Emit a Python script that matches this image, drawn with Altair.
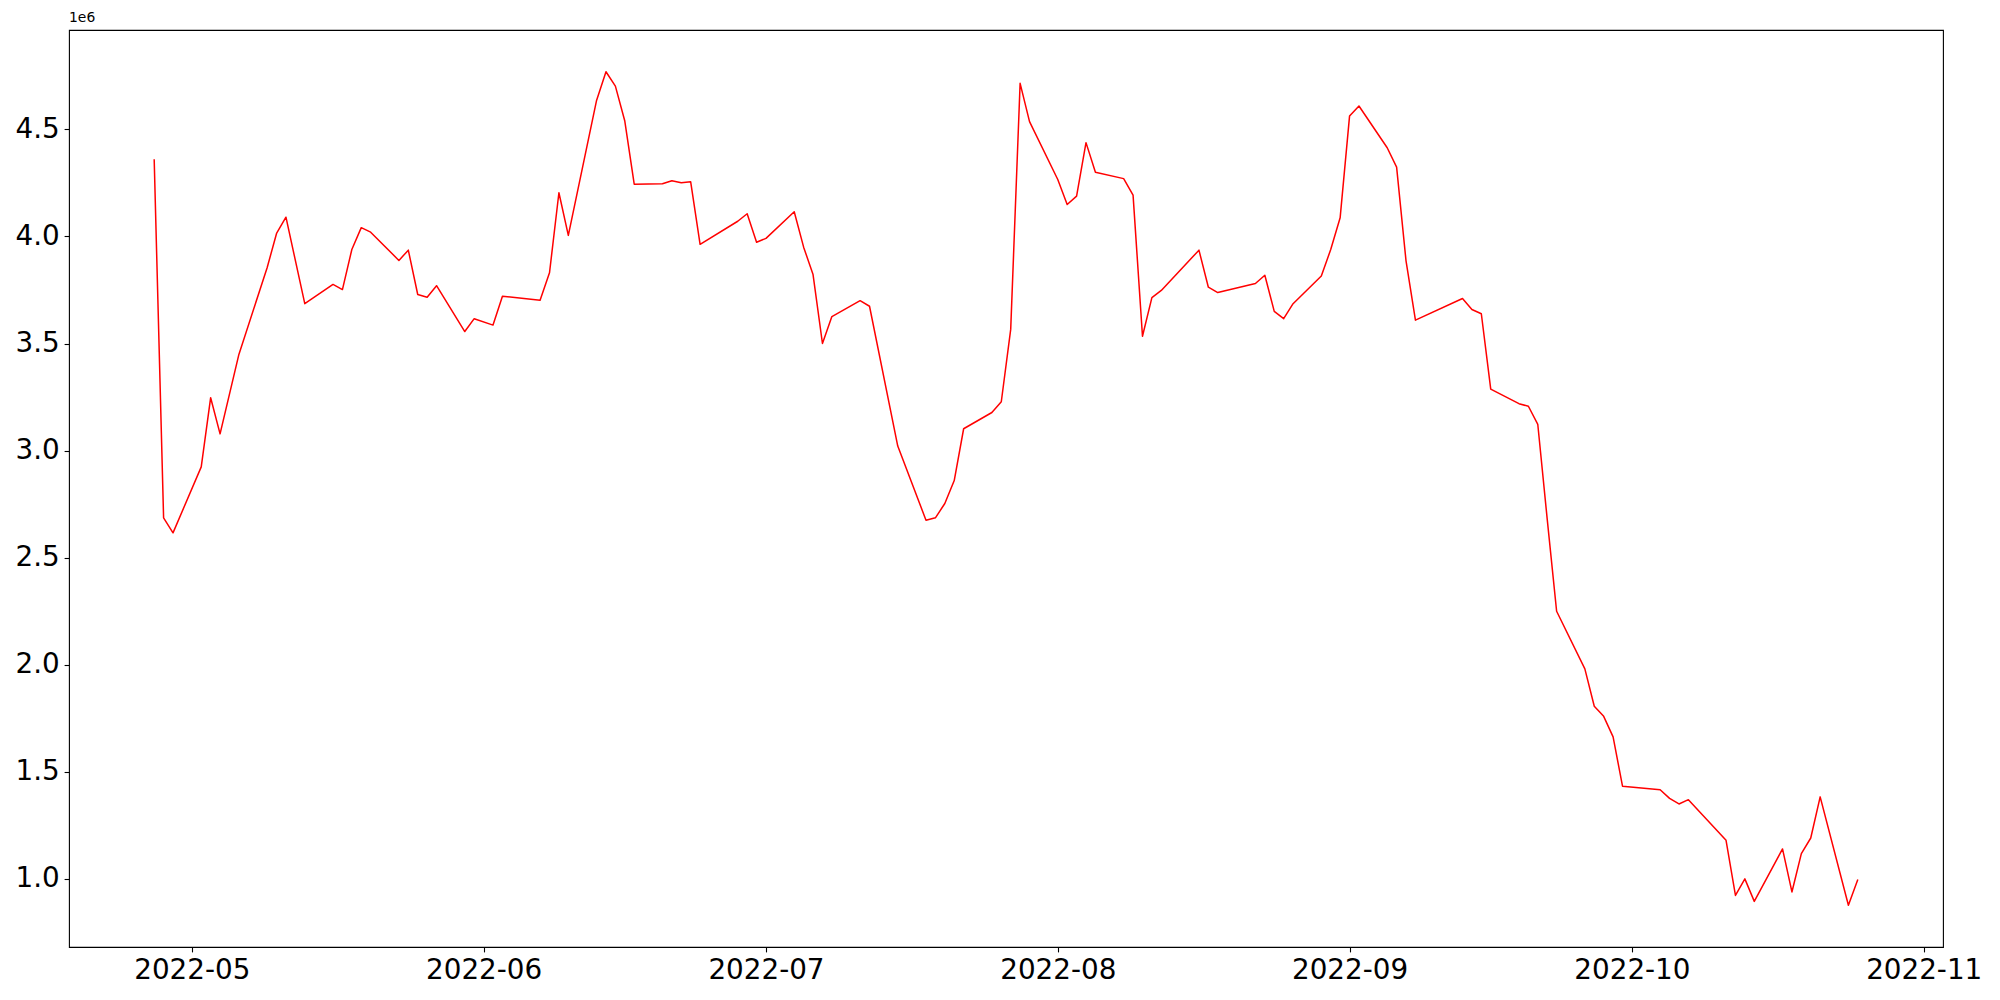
import altair as alt
import pandas as pd

dates = [
    "2022-04-27", "2022-04-28", "2022-04-29", "2022-05-02", "2022-05-03", "2022-05-04",
    "2022-05-06", "2022-05-09", "2022-05-10", "2022-05-11", "2022-05-13", "2022-05-16",
    "2022-05-17", "2022-05-18", "2022-05-19", "2022-05-20", "2022-05-23", "2022-05-24",
    "2022-05-25", "2022-05-26", "2022-05-27", "2022-05-30", "2022-05-31", "2022-06-02",
    "2022-06-03", "2022-06-07", "2022-06-08", "2022-06-09", "2022-06-10", "2022-06-13",
    "2022-06-14", "2022-06-15", "2022-06-16", "2022-06-17", "2022-06-20", "2022-06-21",
    "2022-06-22", "2022-06-23", "2022-06-24", "2022-06-28", "2022-06-29", "2022-06-30",
    "2022-07-01", "2022-07-04", "2022-07-05", "2022-07-06", "2022-07-07", "2022-07-08",
    "2022-07-11", "2022-07-12", "2022-07-15", "2022-07-18", "2022-07-19", "2022-07-20",
    "2022-07-21", "2022-07-22", "2022-07-25", "2022-07-26", "2022-07-27", "2022-07-28",
    "2022-07-29", "2022-08-01", "2022-08-02", "2022-08-03", "2022-08-04", "2022-08-05",
    "2022-08-08", "2022-08-09", "2022-08-10", "2022-08-11", "2022-08-12", "2022-08-16",
    "2022-08-17", "2022-08-18", "2022-08-22", "2022-08-23", "2022-08-24", "2022-08-25",
    "2022-08-26", "2022-08-29", "2022-08-30", "2022-08-31", "2022-09-01", "2022-09-02",
    "2022-09-05", "2022-09-06", "2022-09-07", "2022-09-08", "2022-09-13", "2022-09-14",
    "2022-09-15", "2022-09-16", "2022-09-19", "2022-09-20", "2022-09-21", "2022-09-22",
    "2022-09-23", "2022-09-26", "2022-09-27", "2022-09-28", "2022-09-29", "2022-09-30",
    "2022-10-04", "2022-10-05", "2022-10-06", "2022-10-07", "2022-10-11", "2022-10-12",
    "2022-10-13", "2022-10-14", "2022-10-17", "2022-10-18", "2022-10-19", "2022-10-20",
    "2022-10-21", "2022-10-24", "2022-10-25",
]

values_millions = [
    4.360, 2.686, 2.616, 2.924, 3.247, 3.078,
    3.449, 3.854, 4.014, 4.090, 3.686, 3.776,
    3.752, 3.939, 4.041, 4.020, 3.888, 3.936,
    3.729, 3.716, 3.770, 3.556, 3.616, 3.586,
    3.721, 3.702, 3.830, 4.204, 4.005, 4.635,
    4.769, 4.702, 4.539, 4.244, 4.246, 4.260,
    4.251, 4.255, 3.963, 4.071, 4.106, 3.973,
    3.991, 4.115, 3.950, 3.822, 3.500, 3.626,
    3.700, 3.674, 3.021, 2.675, 2.686, 2.753,
    2.860, 3.102, 3.178, 3.228, 3.566, 4.715,
    4.536, 4.266, 4.149, 4.188, 4.438, 4.300,
    4.270, 4.193, 3.534, 3.714, 3.748, 3.936,
    3.763, 3.738, 3.780, 3.819, 3.650, 3.616,
    3.686, 3.815, 3.939, 4.087, 4.562, 4.609,
    4.414, 4.324, 3.886, 3.609, 3.710, 3.659,
    3.639, 3.287, 3.219, 3.207, 3.122, 2.680,
    2.250, 1.981, 1.806, 1.759, 1.663, 1.433,
    1.416, 1.376, 1.350, 1.370, 1.180, 0.923,
    1.000, 0.895, 1.140, 0.939, 1.118, 1.191,
    1.383, 0.877, 0.997,
]

x_tick_months = [5, 6, 7, 8, 9, 10, 11]
y_tick_millions = [1.0, 1.5, 2.0, 2.5, 3.0, 3.5, 4.0, 4.5]

df = pd.DataFrame({
    "date": [d + "T00:00:00" for d in dates],
    "value": [v * 1e6 for v in values_millions],
})

FONT = "DejaVu Sans"
FS = 27.8

x_values = [alt.DateTime(year=2022, month=m, date=1) for m in x_tick_months]
x_domain = [
    alt.DateTime(year=2022, month=4, date=17, hours=22, minutes=48),
    alt.DateTime(year=2022, month=11, date=3, hours=1, minutes=12),
]

line = alt.Chart(df).mark_line(
    color="#ff0000", strokeWidth=1.5, strokeJoin="round", clip=True
).encode(
    x=alt.X(
        "date:T",
        scale=alt.Scale(domain=x_domain, nice=False),
        axis=alt.Axis(
            values=x_values,
            format="%Y-%m",
            title=None,
            grid=False,
            domain=False,
            tickColor="black",
            tickWidth=1.1,
            tickSize=4.9,
            labelPadding=4.9,
            labelFont=FONT,
            labelFontSize=FS,
            labelColor="black",
            labelFlush=False,
            labelOverlap=False,
            labelBound=False,
        ),
    ),
    y=alt.Y(
        "value:Q",
        scale=alt.Scale(domain=[682000, 4964000], nice=False, zero=False),
        axis=alt.Axis(
            values=[v * 1e6 for v in y_tick_millions],
            labelExpr="format(datum.value / 1000000, '.1f')",
            title=None,
            grid=False,
            domain=False,
            tickColor="black",
            tickWidth=1.1,
            tickSize=4.9,
            labelPadding=4.9,
            labelFont=FONT,
            labelFontSize=FS,
            labelColor="black",
            labelOverlap=False,
        ),
    ),
)

chart = line.properties(
    width=1874,
    height=917,
    title=alt.TitleParams(
        "1e6",
        anchor="start",
        frame="group",
        font=FONT,
        fontSize=13.9,
        fontWeight="normal",
        color="black",
        offset=5,
    ),
    autosize=alt.AutoSizeParams(type="none"),
    padding={"left": 61, "top": 22, "right": 48, "bottom": 45},
).configure_view(
    stroke="black", strokeWidth=1.1, fill="white"
)

chart.save("out.html", embed_options={"renderer": "svg", "actions": False})
